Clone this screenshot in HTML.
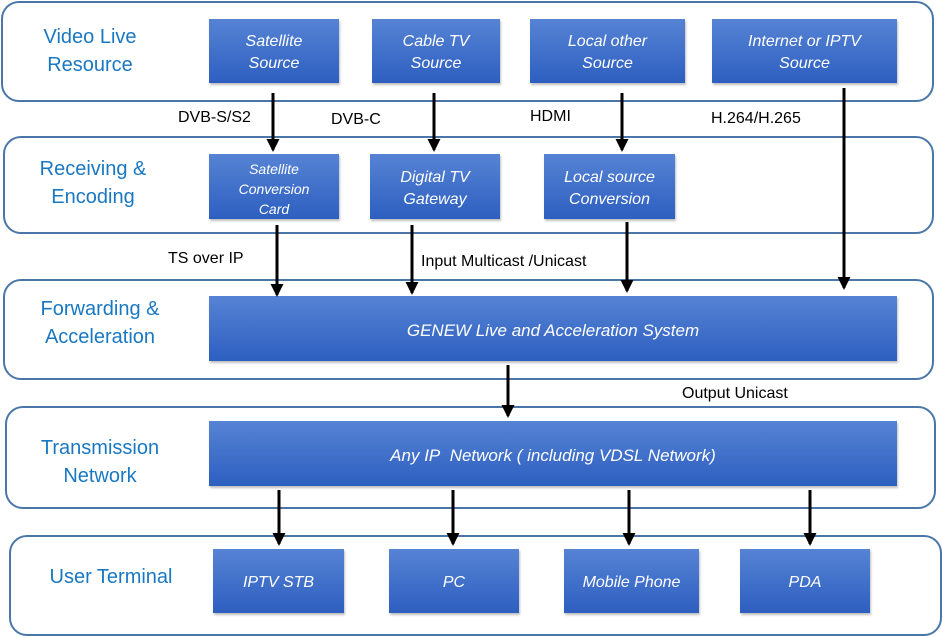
<!DOCTYPE html>
<html><head><style>
body{margin:0;width:943px;height:637px;background:#fff;position:relative;font-family:"Liberation Sans",sans-serif;overflow:hidden}
.c{position:absolute;border:2px solid #4a77a8;border-radius:18px;box-sizing:border-box}
.l{position:absolute;color:#1a78c2;font-size:20px;text-align:center;line-height:28px;width:180px}
.b{position:absolute;box-sizing:border-box;padding-top:4px;background:linear-gradient(#5683d4,#2d5fc0);color:#fff;font-style:italic;font-size:16px;display:flex;align-items:center;justify-content:center;text-align:center;line-height:22px;box-shadow:1px 2px 2px rgba(0,0,0,.25)}
.t{position:absolute;font-size:16px;color:#000}
</style></head><body>
<div class="c" style="left:1px;top:1px;width:933px;height:101px"></div>
<div class="c" style="left:3px;top:136px;width:931px;height:98px"></div>
<div class="c" style="left:3px;top:279px;width:931px;height:101px"></div>
<div class="c" style="left:5px;top:406px;width:931px;height:103px"></div>
<div class="c" style="left:9px;top:535px;width:933px;height:101px"></div>

<div class="l" style="left:0;top:23px">Video Live<br>Resource</div>
<div class="l" style="left:3px;top:155px">Receiving &amp;<br>Encoding</div>
<div class="l" style="left:10px;top:295px">Forwarding &amp;<br>Acceleration</div>
<div class="l" style="left:10px;top:434px">Transmission<br>Network</div>
<div class="l" style="left:21px;top:563px">User Terminal</div>

<div class="b" style="left:209px;top:19px;width:130px;height:64px">Satellite<br>Source</div>
<div class="b" style="left:372px;top:19px;width:128px;height:64px">Cable TV<br>Source</div>
<div class="b" style="left:530px;top:19px;width:155px;height:64px">Local other<br>Source</div>
<div class="b" style="left:712px;top:19px;width:185px;height:64px">Internet or IPTV<br>Source</div>

<div class="b" style="left:209px;top:154px;width:130px;height:65px;font-size:14px;line-height:20px">Satellite<br>Conversion<br>Card</div>
<div class="b" style="left:370px;top:154px;width:130px;height:65px">Digital TV<br>Gateway</div>
<div class="b" style="left:544px;top:154px;width:131px;height:65px">Local source<br>Conversion</div>

<div class="b" style="left:209px;top:296px;width:688px;height:65px;font-size:17px">GENEW Live and Acceleration System</div>
<div class="b" style="left:209px;top:421px;width:688px;height:65px;font-size:17px">Any IP&nbsp; Network ( including VDSL Network)</div>

<div class="b" style="left:213px;top:549px;width:131px;height:64px">IPTV STB</div>
<div class="b" style="left:389px;top:549px;width:130px;height:64px">PC</div>
<div class="b" style="left:564px;top:549px;width:135px;height:64px">Mobile Phone</div>
<div class="b" style="left:740px;top:549px;width:130px;height:64px">PDA</div>

<div class="t" style="left:178px;top:109px">DVB-S/S2</div>
<div class="t" style="left:331px;top:111px">DVB-C</div>
<div class="t" style="left:530px;top:108px">HDMI</div>
<div class="t" style="left:711px;top:110px">H.264/H.265</div>
<div class="t" style="left:168px;top:250px">TS over IP</div>
<div class="t" style="left:421px;top:253px">Input Multicast /Unicast</div>
<div class="t" style="left:682px;top:385px">Output Unicast</div>

<svg width="943" height="637" style="position:absolute;left:0;top:0">
<defs><marker id="a" markerWidth="13" markerHeight="13" refX="11" refY="6.5" orient="auto" markerUnits="userSpaceOnUse"><path d="M0,0 L13,6.5 L0,13 z" fill="#000"/></marker></defs>
<g stroke="#000" stroke-width="3" marker-end="url(#a)">
<line x1="273" y1="93" x2="273" y2="150"/>
<line x1="434" y1="93" x2="434" y2="150"/>
<line x1="622" y1="93" x2="622" y2="150"/>
<line x1="844" y1="88" x2="844" y2="288"/>
<line x1="277" y1="225" x2="277" y2="295"/>
<line x1="412" y1="225" x2="412" y2="293"/>
<line x1="627" y1="222" x2="627" y2="291"/>
<line x1="508" y1="365" x2="508" y2="416"/>
<line x1="279" y1="490" x2="279" y2="544"/>
<line x1="453" y1="490" x2="453" y2="544"/>
<line x1="629" y1="490" x2="629" y2="544"/>
<line x1="810" y1="490" x2="810" y2="544"/>
</g></svg>
</body></html>
